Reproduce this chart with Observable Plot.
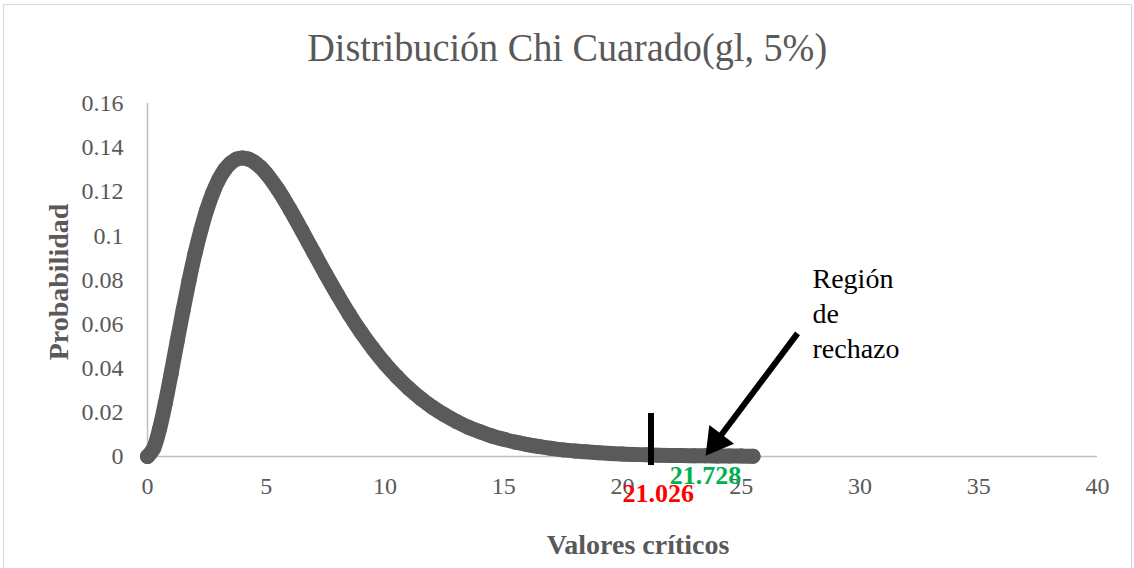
<!DOCTYPE html>
<html>
<head>
<meta charset="utf-8">
<script src="https://cdn.jsdelivr.net/npm/d3@7"></script>
<script src="https://cdn.jsdelivr.net/npm/@observablehq/plot@0.6"></script>
<style>
  html, body { margin: 0; padding: 0; background: #fff; overflow: hidden; }
  #wrap { position: relative; width: 1134px; height: 568px; }
  #frame { position: absolute; left: 3px; top: 4px; right: 2px; bottom: -4px; border: 1px solid #d9d9d9; pointer-events: none; }
  #title { position: absolute; left: 0; width: 1134px; top: 28px; text-align: center; white-space: nowrap;
           font-family: "Liberation Serif", serif; font-size: 40px; line-height: 1; color: #595959; }
  #title span { display: inline-block; transform-origin: center; }
  .axt { position: absolute; font-family: "Liberation Serif", serif; font-weight: bold; font-size: 28px; color: #595959; white-space: nowrap; }
</style>
</head>
<body>
<div id="wrap">
  <div id="title"><span>Distribución Chi Cuarado(gl, 5%)</span></div>
  <div id="chart"></div>
  <div class="axt" id="ylab" style="left:59px; top:282px; transform: translate(-50%,-50%) rotate(-90deg);">Probabilidad</div>
  <div class="axt" id="xlab" style="left:638px; top:545px; transform: translate(-50%,-50%);">Valores críticos</div>
  <div id="frame"></div>
</div>
<script>
// Series values
const valores = [0,0.25,0.5,0.75,1,1.25,1.5,1.75,2,2.25,2.5,2.75,3,3.25,3.5,3.75,4,4.25,4.5,4.75,5,
  5.5,6,6.5,7,7.5,8,8.5,9,9.5,10,10.5,11,11.5,12,12.5,13,13.5,14,14.5,15,15.5,16,16.5,17,17.5,18,18.5,19,19.5,20,
  20.5,21,21.5,22,22.5,23,23.5,24,24.5,25,25.5];
const probabilidad = [0,0.0035,0.0122,0.0242,0.0379,0.0523,0.0664,0.0798,0.0920,0.1027,0.1119,0.1195,0.1255,0.1300,0.1330,0.1348,0.1353,0.1348,0.1334,0.1312,0.1283,
  0.1209,0.1120,0.1024,0.0925,0.0827,0.0733,0.0644,0.0562,0.0488,0.0421,0.0362,0.0309,0.0263,0.0223,0.0189,0.0159,0.0133,0.0112,0.0093,0.0078,0.0065,0.0054,0.0045,0.0037,0.0030,0.0025,0.0021,0.0017,0.0014,0.0011,
  0.0009,0.0008,0.0006,0.0005,0.0004,0.0003,0.0003,0.0002,0.0002,0.0002,0.0001];

// Tick labels
const xTicks = [0,5,10,15,20,25,30,35,40];
const yTicks = [0,0.02,0.04,0.06,0.08,0.1,0.12,0.14,0.16];

// Annotations
const criticoTabla = "21.026";
const criticoCalc = "21.728";
const marcaCritico = [21.2];
const regionTexto = "Región\nde\nrechazo";

const data = valores.map((v, i) => ({x: v, y: probabilidad[i]}));

const chart = Plot.plot({
  width: 1134,
  height: 568,
  marginLeft: 147,
  marginRight: 37,
  marginTop: 103,
  marginBottom: 112,
  style: {fontFamily: "Liberation Serif, serif", fontSize: "24px", color: "#595959", background: "transparent", overflow: "visible"},
  x: {domain: [0, 40]},
  y: {domain: [0, 0.16]},
  marks: [
    Plot.ruleX([0], {stroke: "#bfbfbf", strokeWidth: 1.5}),
    Plot.ruleY([0], {stroke: "#bfbfbf", strokeWidth: 1.5}),
    Plot.axisX({ticks: xTicks, tickSize: 0, tickPadding: 20, label: null, fill: "#595959"}),
    Plot.axisY({ticks: yTicks, tickSize: 0, tickPadding: 24, label: null, tickFormat: d => String(d), fill: "#595959"}),
    Plot.line(data, {x: "x", y: "y", stroke: "#5a5a5a", strokeWidth: 15, curve: "catmull-rom", strokeLinecap: "round", strokeLinejoin: "round"}),
    Plot.dot(data, {x: "x", y: "y", r: 7.5, fill: "#5a5a5a"}),
    Plot.ruleX(marcaCritico, {x: d => d, y1: -0.0041, y2: 0.0195, stroke: "black", strokeWidth: 6}),
    Plot.link([{x1: 27.37, y1: 0.0558, x2: 24.0, y2: 0.0075}], {x1: "x1", y1: "y1", x2: "x2", y2: "y2", stroke: "black", strokeWidth: 6}),
    Plot.dot([{x: 23.95, y: 0.0068}], {x: "x", y: "y", symbol: "triangle", r: 11.5, fill: "black", rotate: 217}),
    Plot.text([criticoCalc], {x: 23.49, y: -0.0088, text: d => d, fill: "#00b050", fontWeight: "bold", fontSize: 26}),
    Plot.text([criticoTabla], {x: 21.5, y: -0.0168, text: d => d, fill: "#ff0000", fontWeight: "bold", fontSize: 26}),
    Plot.text([regionTexto], {x: 28.0, y: 0.0875, text: d => d, fill: "black", fontSize: 28, textAnchor: "start", lineAnchor: "top", lineHeight: 1.25})
  ]
});
document.getElementById("chart").appendChild(chart);

// fit title width to the reference's title span
const sp = document.querySelector("#title span");
const w = sp.getBoundingClientRect().width;
sp.style.transform = `scaleX(${520 / w})`;
</script>
</body>
</html>
